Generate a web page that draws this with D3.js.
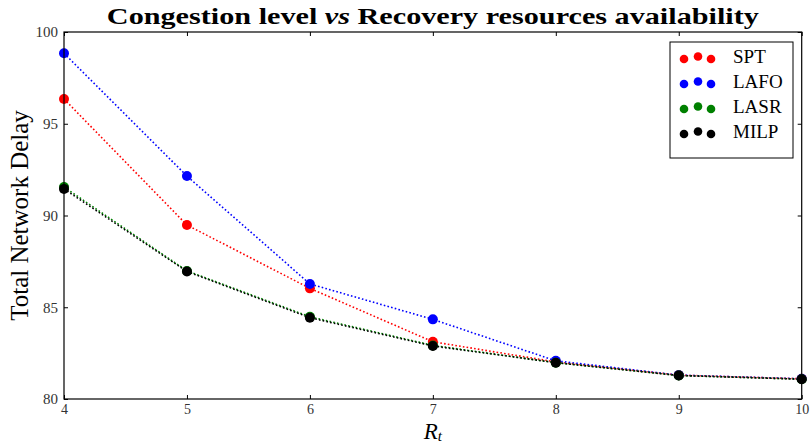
<!DOCTYPE html>
<html><head><meta charset="utf-8">
<script src="https://cdn.jsdelivr.net/npm/d3@7"></script>
<style>body{margin:0;background:#fff}svg{display:block}</style>
</head><body>
<svg id="c" width="810" height="443"></svg>
<script>
const xValues = [4, 5, 6, 7, 8, 9, 10];
const spt  = [96.35, 89.48, 86.03, 83.12, 82.02, 81.3, 81.1];
const lafo = [98.84, 92.15, 86.27, 84.34, 82.08, 81.3, 81.1];
const lasr = [91.55, 86.98, 84.48, 82.92, 81.98, 81.28, 81.08];
const milp = [91.45, 86.95, 84.43, 82.89, 81.98, 81.28, 81.08];
const seriesNames = ["SPT", "LAFO", "LASR", "MILP"];
const seriesColors = ["#ff0000", "#0000ff", "#008000", "#000000"];
const yTicks = [80, 85, 90, 95, 100];
const xTicks = [4, 5, 6, 7, 8, 9, 10];
const series = [spt, lafo, lasr, milp];

const svg = d3.select("#c");
const L = 64, R = 801.7, T = 32, B = 399;
const x = d3.scaleLinear().domain([4, 10]).range([L, R]);
const y = d3.scaleLinear().domain([80, 100]).range([B, T]);
const serif = "'Liberation Serif', 'DejaVu Serif', serif";

// lines and points
series.forEach((s, i) => {
  const pts = xValues.map((xv, j) => [xv, s[j]]);
  svg.append("path").datum(pts)
    .attr("fill", "none").attr("stroke", seriesColors[i])
    .attr("stroke-width", 1.6).attr("stroke-dasharray", "1.6,2.2")
    .attr("d", d3.line().x(d => x(d[0])).y(d => y(d[1])));
});
series.forEach((s, i) => {
  svg.append("g").selectAll("circle").data(xValues.map((xv, j) => [xv, s[j]]))
    .join("circle").attr("cx", d => x(d[0])).attr("cy", d => y(d[1]))
    .attr("r", 5).attr("fill", seriesColors[i]);
});

// axes (ticks inward on all sides)
const tickLen = 4;
const gx = svg.append("g").attr("transform", `translate(0,${B})`)
  .call(d3.axisBottom(x).tickValues(xTicks).tickSize(-tickLen).tickPadding(5).tickFormat(d3.format("d")));
const gxt = svg.append("g").attr("transform", `translate(0,${T})`)
  .call(d3.axisTop(x).tickValues(xTicks).tickSize(-tickLen).tickFormat(""));
const gy = svg.append("g").attr("transform", `translate(${L},0)`)
  .call(d3.axisLeft(y).tickValues(yTicks).tickSize(-tickLen).tickPadding(6).tickFormat(d3.format("d")));
const gyr = svg.append("g").attr("transform", `translate(${R},0)`)
  .call(d3.axisRight(y).tickValues(yTicks).tickSize(-tickLen).tickFormat(""));
[gx, gxt, gy, gyr].forEach(g => {
  g.select(".domain").remove();
  g.selectAll("line").attr("stroke", "#000").attr("stroke-width", 1);
  g.selectAll("text").attr("font-family", serif).attr("font-size", 15).attr("fill", "#333");
});
gx.selectAll("text").attr("font-size", 14).attr("dy", "0.71em");
svg.append("rect").attr("x", L).attr("y", T).attr("width", R - L).attr("height", B - T)
  .attr("fill", "none").attr("stroke", "#000").attr("stroke-width", 1.2);

// title
const title = svg.append("text").attr("x", (L + R) / 2).attr("y", 24)
  .attr("text-anchor", "middle").attr("font-family", serif).attr("font-size", 24)
  .attr("font-weight", "bold").attr("fill", "#000")
  .attr("textLength", 652).attr("lengthAdjust", "spacingAndGlyphs");
title.append("tspan").text("Congestion level ");
title.append("tspan").attr("font-style", "italic").text("vs");
title.append("tspan").text(" Recovery resources availability");

// axis labels
const xl = svg.append("text").attr("x", (L + R) / 2).attr("y", 439)
  .attr("text-anchor", "middle").attr("font-family", serif).attr("font-size", 23).attr("fill", "#000");
xl.append("tspan").attr("font-style", "italic").text("R");
xl.append("tspan").attr("font-style", "italic").attr("font-size", 15).attr("dy", 2).text("t");
svg.append("text").attr("transform", `translate(28,${(T + B) / 2}) rotate(-90)`)
  .attr("text-anchor", "middle").attr("font-family", serif).attr("font-size", 25).attr("fill", "#000")
  .text("Total Network Delay");

// legend
const lg = svg.append("g");
lg.append("rect").attr("x", 670).attr("y", 42).attr("width", 123).attr("height", 116)
  .attr("fill", "#fff").attr("stroke", "#000").attr("stroke-width", 1);
const offs = [[684, 2], [698, -0.5], [711, 2]];
seriesNames.forEach((n, i) => {
  const cy = 57 + i * 25;
  offs.forEach(o => lg.append("circle").attr("cx", o[0]).attr("cy", cy + o[1]).attr("r", 4.3).attr("fill", seriesColors[i]));
  lg.append("text").attr("x", 733).attr("y", cy + 6).attr("font-family", serif).attr("font-size", 19)
    .attr("fill", "#000").text(n);
});
</script>
</body></html>
